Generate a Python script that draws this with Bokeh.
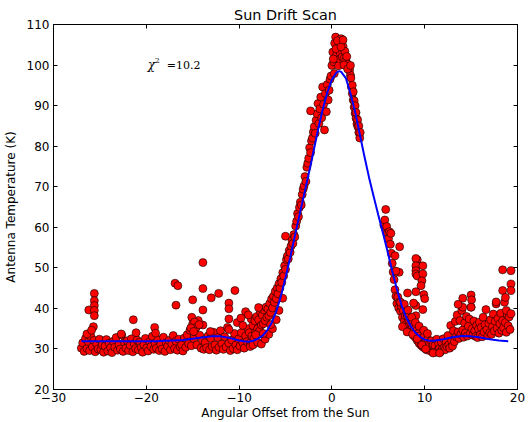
import numpy as np
from bokeh.plotting import figure
from bokeh.models import LinearAxis, FixedTicker, Label, CustomJSTickFormatter, Range1d
from bokeh.embed import file_html
from bokeh.resources import INLINE

TITLE = "Sun Drift Scan"
X_LABEL = "Angular Offset from the Sun"
Y_LABEL = "Antenna Temperature (K)"
X_TICKS = [-30, -20, -10, 0, 10, 20]
Y_TICKS = [20, 30, 40, 50, 60, 70, 80, 90, 100, 110]
CHI2_VALUE = "=10.2"

# --- scan samples: baseline before the Sun (offset start, sample spacing, temperatures)
SEG_A_START, SEG_A_STEP = -27.0, 0.15
seg_a_temp = [
    30.2, 31.5, 29.4, 32.6, 30.1, 31.8, 29.6, 33.0, 30.5, 32.1,
    29.3, 31.2, 30.0, 32.4, 29.8, 31.0, 29.2, 30.7, 32.3, 29.5,
    31.4, 30.3, 29.1, 31.9, 30.4, 32.8, 29.7, 31.1, 30.0, 33.4,
    29.4, 31.6, 30.2, 32.0, 29.6, 30.9, 32.5, 29.3, 31.3, 30.1,
    32.2, 29.8, 31.7, 30.4, 29.2, 31.0, 32.6, 30.3, 29.5, 31.8,
    30.6, 33.1, 29.9, 31.4, 30.2, 32.3, 29.6, 31.1, 30.0, 32.9,
    29.4, 31.5, 30.7, 32.1, 29.8, 31.2, 33.3, 30.1, 31.9, 29.7,
    32.4, 30.5, 31.0, 29.5, 32.7, 30.4, 33.5, 31.3, 34.6, 30.8,
    36.2, 32.5, 35.1, 31.0, 37.0, 33.4, 30.2, 32.1, 29.9, 31.6,
    30.3, 33.2, 29.8, 32.6, 30.6, 34.1, 31.0, 29.7, 32.8, 30.4,
    34.5, 31.2, 29.9, 33.0, 30.5, 35.3, 31.4, 29.6, 32.2, 30.1,
    33.8, 31.0, 29.8, 32.5, 30.7, 34.0, 31.5, 30.2, 33.2, 31.8,
    35.0,
]

# --- scan samples: rise, peak and first part of the fall
SEG_B_START, SEG_B_STEP = -8.9, 0.1
seg_b_temp = [
    34.0, 31.5, 37.4, 33.2, 35.8, 32.6, 36.9, 34.1, 38.0, 35.0,
    37.2, 34.4, 39.1, 35.9, 38.3, 36.2, 39.6, 37.0, 40.3, 37.8,
    39.9, 38.2, 41.2, 39.0, 42.3, 40.1, 43.0, 41.5, 44.2, 42.4,
    45.0, 43.6, 46.1, 45.0, 47.3, 46.4, 48.8, 48.0, 50.5, 49.6,
    52.0, 52.9, 52.2, 54.3, 53.8, 55.4, 56.8, 56.0, 58.2, 57.6,
    60.3, 61.5, 63.4, 62.6, 64.9, 66.2, 65.5, 68.1, 69.4, 70.2,
    72.5, 71.3, 74.8, 75.8, 77.0, 79.6, 78.4, 81.3, 82.0, 83.5,
    84.8, 83.2, 86.4, 88.0, 90.5, 85.6, 89.2, 92.1, 87.0, 94.6,
    90.3, 84.0, 93.0, 88.5, 95.2, 91.4, 93.8, 96.5, 97.3, 99.9,
    103.2, 100.8, 105.4, 106.9, 102.5, 104.2, 101.3, 105.8, 103.0, 106.5,
    102.0, 104.6, 101.6, 103.4, 101.2, 102.1, 100.2, 99.6, 98.7, 97.5,
    94.6, 93.0, 91.4, 89.6, 88.1, 86.9, 85.5, 84.8, 83.4, 82.0,
]

# --- scan samples: lower fall and baseline after the Sun
SEG_C_START, SEG_C_STEP = 5.6, 0.1
seg_c_temp = [
    60.5, 61.8, 59.5, 60.2, 58.6, 57.2, 58.9, 55.8, 53.6, 51.1,
    49.0, 47.1, 44.6, 43.0, 41.2, 42.8, 40.1, 41.6, 39.3, 40.5,
    37.8, 39.4, 36.9, 38.2, 36.0, 38.5, 35.4, 37.1, 34.6, 36.4,
    34.0, 35.5, 33.3, 35.0, 32.8, 34.4, 32.1, 33.8, 31.4, 33.2,
    30.9, 32.6, 30.5, 32.9, 30.2, 31.8, 29.8, 32.3, 30.0, 31.2,
    29.5, 32.0, 29.9, 31.0, 29.4, 30.8, 29.2, 32.4, 29.6, 31.3,
    30.1, 29.3, 31.7, 30.0, 32.5, 30.4, 29.8, 31.6, 30.6, 33.3,
    31.0, 30.2, 35.8, 32.0, 30.7, 34.5, 31.8, 36.8, 33.0, 38.4,
    34.2, 32.6, 37.0, 33.6, 39.5, 34.7, 32.9, 36.4, 34.0, 38.0,
    33.2, 35.6, 37.4, 33.8, 40.3, 35.0, 33.4, 36.9, 34.5, 33.1,
    35.8, 32.8, 34.9, 36.6, 33.5, 35.3, 33.0, 37.8, 34.2, 36.0,
    39.7, 34.8, 33.3, 36.3, 34.0, 37.2, 33.6, 35.5, 38.6, 34.4,
    36.8, 41.1, 35.1, 37.5, 33.9, 36.2, 38.8, 34.6, 37.0, 35.2,
    41.5, 36.5, 34.1, 38.4, 35.7, 37.9, 34.8,
]

# --- further scan samples read individually (offset, temperature)
extra_offset = [
    -25.6, -25.6, -25.6, -26.2, -25.6, -25.6, -25.7, -26.4, -25.9,
    -22.7, -21.4, -21.1, -19.1, -19.0,
    -16.9, -16.6, -13.9, -13.9, -10.45, -12.2, -13.0, -15.0, -16.8,
    -11.1, -11.1, -13.9, -11.1, -11.1, -13.9, -13.1,
    -15.1, -14.8, -14.6, -14.3, -15.2, -14.9,
    -9.3, -9.0, -7.9, -10.2, -9.8, -9.6,
    -8.8, -8.5, -8.0, -7.6, -7.2, -6.8, -6.4, -6.0, -5.7, -5.3, -8.2, -7.4, -6.6,
    -5.0, -2.3,
    0.25, 0.43, 0.6, 0.97, 1.2, 0.15, 0.7, 1.3,
    1.7, 2.05, 2.2, 2.3, 2.4, 2.5, 2.6, 2.77, 2.9, 3.05, 2.0,
    5.8, 7.3, 7.25, 6.36, 6.8, 6.9,
    9.2, 9.05, 9.1, 9.05, 9.05, 9.05, 9.2, 9.8, 9.8, 9.7, 9.6, 9.05, 8.15,
    9.9, 10.0, 9.05, 9.8, 9.05, 8.8, 8.15, 7.4,
    7.8, 8.2, 8.6, 9.0, 9.4, 9.9, 10.3, 7.6, 8.1, 8.7, 9.2, 9.7, 10.1, 10.9, 11.6,
    14.1, 15.0, 15.05, 14.1, 15.0, 13.6,
    18.4, 19.3, 19.3, 19.3, 18.4, 18.7, 18.8, 19.3, 17.7,
]
extra_temp = [
    43.7, 41.9, 40.7, 39.6, 39.5, 38.2, 35.5, 33.7, 34.6,
    33.7, 37.2, 34.0, 35.3, 33.9,
    46.2, 45.6, 51.3, 44.9, 44.4, 43.7, 42.6, 42.1, 40.8,
    41.3, 39.9, 39.6, 37.4, 34.8, 35.9, 34.3,
    37.8, 36.6, 35.4, 36.0, 35.2, 34.3,
    39.2, 38.4, 40.2, 36.5, 37.6, 35.8,
    30.6, 31.0, 31.6, 31.2, 32.4, 33.6, 35.0, 37.2, 39.5, 42.5, 33.5, 33.8, 36.0,
    57.8, 88.7,
    97.9, 104.0, 106.0, 104.5, 106.2, 101.5, 99.8, 100.0,
    99.0, 96.8, 95.0, 93.4, 91.2, 90.0, 88.3, 86.5, 85.0, 83.4, 99.9,
    64.4, 55.2, 48.9, 58.5, 53.0, 49.2,
    52.0, 52.3, 50.4, 50.5, 49.3, 48.5, 48.0, 50.5, 48.5, 46.8, 45.6, 44.1, 43.8,
    43.4, 42.4, 40.7, 39.7, 38.2, 41.3, 38.1, 41.5,
    41.0, 39.6, 37.8, 36.5, 35.6, 34.6, 33.8, 35.5, 34.2, 33.6, 32.5, 31.0, 30.0, 29.0, 29.0,
    42.5, 43.3, 42.1, 40.3, 40.3, 41.0,
    49.5, 49.3, 46.0, 44.4, 44.4, 42.7, 39.5, 38.7, 41.6,
]

# --- fitted model curve (offset, temperature)
fit_offset = [
    -27, -26, -25, -24, -23, -22, -21, -20, -19, -18, -17, -16, -15, -14, -13, -12,
    -11, -10, -9.5, -9, -8.5, -8, -7.5, -7, -6.5, -6, -5.5, -5, -4.5, -4, -3.5, -3,
    -2.5, -2, -1.5, -1, -0.5, 0, 0.5, 0.8, 1.0, 1.5, 2, 2.5, 3, 3.5, 4, 4.5, 5, 5.5,
    6, 6.5, 7, 7.5, 8, 8.5, 9, 9.5, 10, 10.5, 11, 12, 13, 14, 15, 16, 17, 18, 19,
]
fit_temp = [
    31.9, 31.9, 31.9, 31.9, 31.9, 31.9, 31.9, 31.9, 31.9, 32.0, 32.1, 32.2, 32.5, 32.8, 33.1, 33.1,
    32.7, 32.1, 31.9, 31.8, 32.0, 32.5, 33.2, 34.5, 36.4, 39.2, 43.0, 47.6, 52.5, 57.8, 63.0, 68.0,
    73.2, 78.5, 84.0, 89.0, 93.2, 96.4, 98.2, 98.5, 98.3, 96.8, 93.0, 88.5, 83.0, 77.5, 72.3, 67.6, 63.0, 58.6,
    54.0, 49.2, 44.8, 40.8, 37.8, 35.6, 34.0, 33.0, 32.3, 32.0, 32.0, 32.4, 32.9, 33.2, 33.1, 32.8, 32.4, 32.1, 31.9,
]

def seg_x(start, step, vals):
    return list(start + step * np.arange(len(vals)))

x_all = (seg_x(SEG_A_START, SEG_A_STEP, seg_a_temp) + seg_x(SEG_B_START, SEG_B_STEP, seg_b_temp)
         + seg_x(SEG_C_START, SEG_C_STEP, seg_c_temp) + extra_offset)
y_all = seg_a_temp + seg_b_temp + seg_c_temp + extra_temp

FONT = "DejaVu Sans"

p = figure(width=530, height=422, output_backend="svg", toolbar_location=None,
           x_range=Range1d(-30, 20), y_range=Range1d(20, 110),
           min_border_left=53, min_border_right=13, min_border_top=24, min_border_bottom=31,
           title=TITLE)
p.background_fill_color = "white"
p.border_fill_color = "white"
p.outline_line_color = "black"
p.outline_line_width = 1
p.grid.visible = False

p.title.align = "center"
p.title.text_font = FONT
p.title.text_font_size = "14.4px"
p.title.text_font_style = "normal"
p.title.text_color = "black"
p.title.standoff = 4

minus_fmt = CustomJSTickFormatter(code="return tick < 0 ? '\\u2212' + Math.abs(tick) : String(tick);")
blank_fmt = CustomJSTickFormatter(code="return '';")

for ax, ticks in ((p.xaxis[0], X_TICKS), (p.yaxis[0], Y_TICKS)):
    ax.ticker = FixedTicker(ticks=ticks)
    ax.formatter = minus_fmt
    ax.major_tick_in = 4
    ax.major_tick_out = 0
    ax.minor_tick_in = 0
    ax.minor_tick_out = 0
    ax.axis_line_color = "black"
    ax.major_tick_line_color = "black"
    ax.major_label_text_font = FONT
    ax.major_label_text_font_size = "12px"
    ax.major_label_text_color = "black"
    ax.axis_label_text_font = FONT
    ax.axis_label_text_font_size = "12px"
    ax.axis_label_text_font_style = "normal"
    ax.axis_label_text_color = "black"

p.xaxis[0].axis_label = X_LABEL
p.yaxis[0].axis_label = Y_LABEL
p.xaxis[0].major_label_standoff = 3
p.xaxis[0].axis_label_standoff = 1
p.yaxis[0].major_label_standoff = 4
p.yaxis[0].axis_label_standoff = 6

for ticks, side in ((X_TICKS, "above"), (Y_TICKS, "right")):
    ax = LinearAxis(ticker=FixedTicker(ticks=ticks), formatter=blank_fmt,
                    major_label_standoff=0, major_tick_in=4, major_tick_out=0,
                    minor_tick_in=0, minor_tick_out=0, axis_line_color="black",
                    major_tick_line_color="black")
    p.add_layout(ax, side)

p.scatter(x_all, y_all, size=8, fill_color="#ff0000", line_color="#000000", line_width=0.6)
p.line(fit_offset, fit_temp, line_color="#0000ff", line_width=2)

p.add_layout(Label(x=-19.85, y=100, text="\u03c7", text_font="DejaVu Serif", text_font_style="italic",
                   text_font_size="12px", text_color="black", text_baseline="alphabetic"))
p.add_layout(Label(x=-19.85, y=100, x_offset=7, y_offset=5, text="2", text_font="DejaVu Serif",
                   text_font_size="8px", text_color="black", text_baseline="alphabetic"))
p.add_layout(Label(x=-19.85, y=100, x_offset=19, text=CHI2_VALUE, text_font="DejaVu Serif",
                   text_font_size="11px", text_color="black", text_baseline="alphabetic"))

open("out.html", "w").write(file_html(p, INLINE))
